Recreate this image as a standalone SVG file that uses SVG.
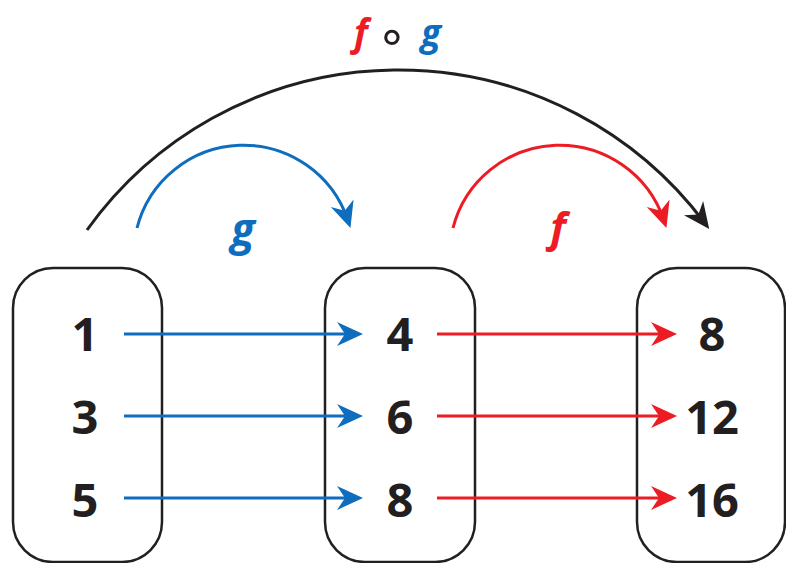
<svg xmlns="http://www.w3.org/2000/svg" width="786" height="563" viewBox="0 0 786 563">
<style>
.box{fill:none;stroke:#231f20;stroke-width:2.5}
.num{font-family:"Open Sans","Liberation Sans",sans-serif;font-weight:700;font-size:47px;fill:#231f20;text-anchor:middle}
.lab{font-family:"Open Sans","Liberation Sans",sans-serif;font-weight:700;font-style:italic;text-anchor:middle}
.blue{stroke:#0f6dbd;fill:none;stroke-width:3}
.red{stroke:#ed1c24;fill:none;stroke-width:3}
.blk{stroke:#231f20;fill:none;stroke-width:3}
</style>
<defs>
<marker id="ab" markerUnits="userSpaceOnUse" viewBox="-20 -14 32 28" refX="0" refY="0" markerWidth="32" markerHeight="28" orient="auto"><path d="M8,0 L-18,-12 L-10,0 L-18,12 Z" fill="#0f6dbd"/></marker>
<marker id="ar" markerUnits="userSpaceOnUse" viewBox="-20 -14 32 28" refX="0" refY="0" markerWidth="32" markerHeight="28" orient="auto"><path d="M8,0 L-18,-12 L-10,0 L-18,12 Z" fill="#ed1c24"/></marker>
<marker id="ak" markerUnits="userSpaceOnUse" viewBox="-20 -14 32 28" refX="0" refY="0" markerWidth="32" markerHeight="28" orient="auto"><path d="M8,0 L-18,-12 L-10,0 L-18,12 Z" fill="#231f20"/></marker>
</defs>
<g id="domain">
<rect class="box" x="13" y="268" width="149" height="294" rx="40"/>
<text class="num" x="85" y="351">1</text>
<text class="num" x="85" y="434">3</text>
<text class="num" x="85" y="517">5</text>
</g>
<g id="middle">
<rect class="box" x="325" y="268" width="150" height="294" rx="40"/>
<text class="num" x="400" y="351">4</text>
<text class="num" x="400" y="434">6</text>
<text class="num" x="400" y="517">8</text>
</g>
<g id="range">
<rect class="box" x="637" y="268" width="148" height="294" rx="40"/>
<text class="num" x="712" y="351">8</text>
<text class="num" x="712" y="434">12</text>
<text class="num" x="712" y="517">16</text>
</g>
<g id="connectors">
<line class="blue" x1="124" y1="334" x2="355" y2="334" marker-end="url(#ab)"/>
<line class="blue" x1="124" y1="416" x2="355" y2="416" marker-end="url(#ab)"/>
<line class="blue" x1="124" y1="498" x2="355" y2="498" marker-end="url(#ab)"/>
<line class="red" x1="437" y1="334" x2="669" y2="334" marker-end="url(#ar)"/>
<line class="red" x1="437" y1="416" x2="669" y2="416" marker-end="url(#ar)"/>
<line class="red" x1="437" y1="498" x2="669" y2="498" marker-end="url(#ar)"/>
<path class="blue" d="M137,228 A110,110 0 0 1 347.9,220.3" marker-end="url(#ab)"/>
<path class="red" d="M453,228 A110,110 0 0 1 663.9,220.3" marker-end="url(#ar)"/>
<path class="blk" d="M87,230 A383,383 0 0 1 704.4,222.5" marker-end="url(#ak)"/>
</g>
<g id="labels">
<text class="lab" x="243" y="245" font-size="44" fill="#0f6dbd">g</text>
<text class="lab" x="558" y="242" font-size="42" fill="#ed1c24">f</text>
<text class="lab" y="46" font-size="37"><tspan x="361" y="46" fill="#ed1c24">f</tspan><tspan x="392" y="53" fill="#231f20" font-style="normal" font-weight="400" font-family="DejaVu Sans,sans-serif" font-size="50">∘</tspan><tspan x="431" y="46" fill="#0f6dbd">g</tspan></text>
</g>
</svg>
